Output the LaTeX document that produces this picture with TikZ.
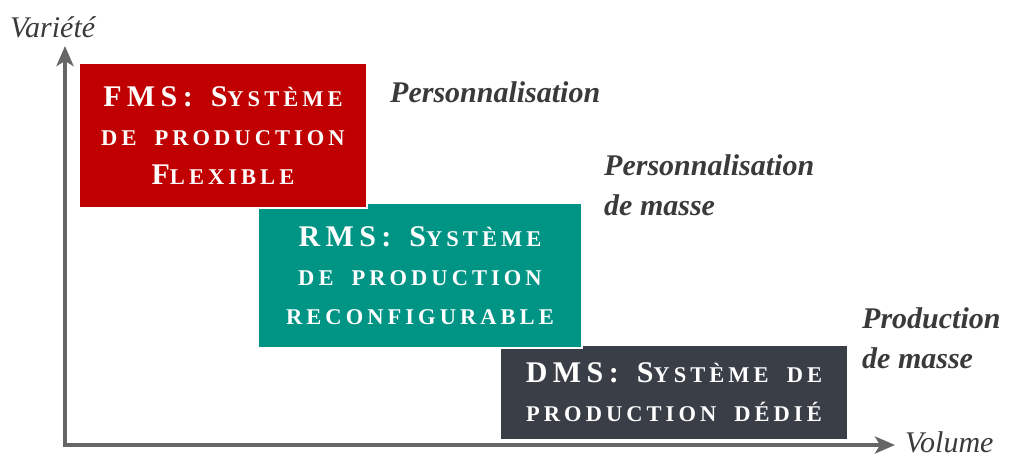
\documentclass[tikz,border=0pt]{standalone}
\usepackage{fontspec}
\setmainfont{Liberation Serif}
\usetikzlibrary{arrows.meta}
\definecolor{fmsred}{HTML}{C00000}
\definecolor{rmsteal}{HTML}{009485}
\definecolor{dmsdark}{HTML}{3A3F47}
\definecolor{axisgray}{HTML}{666666}
\definecolor{labelgray}{HTML}{3A3A3A}
\newcommand{\Bg}[1]{{\fontsize{30}{40}\selectfont #1}}
\newcommand{\boxfont}{\fontsize{22.5}{39}\selectfont\bfseries\addfontfeature{LetterSpace=18}\spaceskip=18pt\relax}
\tikzset{
  sysbox/.style={draw=white, line width=1.5pt, inner sep=0pt, align=center,
    text=white, font=\boxfont},
  axisline/.style={draw=axisgray, line width=4pt, -{Stealth[length=20pt,width=17pt,inset=5pt]}},
  axislabel/.style={text=labelgray, font=\fontsize{30}{30}\selectfont\itshape, inner sep=0pt},
  marketlabel/.style={text=labelgray, font=\fontsize{30}{40}\selectfont\bfseries\itshape, inner sep=0pt, align=left},
}
\begin{document}
\begin{tikzpicture}[x=1pt,y=-1pt]
\useasboundingbox (0,0) rectangle (1010,457);
% axes
\coordinate (origin) at (65,445);
\coordinate (ytip) at (65,46);
\coordinate (xtip) at (895,445);
\draw[axisline] (origin) -- (ytip);
\draw[axisline] ([xshift=-2pt]origin) -- (xtip);
\node[axislabel, anchor=base west] (vlab) at (10,38) {Variété};
\node[axislabel, anchor=base west] (vol) at (905,452) {Volume};
% boxes
\node[sysbox, fill=dmsdark, minimum width=348pt, minimum height=95pt] (dms) at (674,392.5)
  {\Bg{DMS:} \Bg{S}YSTÈME DE\\PRODUCTION DÉDIÉ};
\node[sysbox, fill=rmsteal, minimum width=324pt, minimum height=145pt] (rms) at (420,275.5)
  {\Bg{RMS:} \Bg{S}YSTÈME\\DE PRODUCTION\\RECONFIGURABLE};
\node[sysbox, fill=fmsred, minimum width=288pt, minimum height=145pt] (fms) at (223,135.5)
  {\Bg{FMS:} \Bg{S}YSTÈME\\DE PRODUCTION\\\Bg{F}LEXIBLE};
% market labels
\node[marketlabel, anchor=base west] (perso) at (390,103) {Personnalisation};
\node[marketlabel, anchor=base west] (persom) at (604,216) {Personnalisation\\de masse};
\node[marketlabel, anchor=base west] (prodm) at (862,368) {Production\\de masse};
\end{tikzpicture}
\end{document}
